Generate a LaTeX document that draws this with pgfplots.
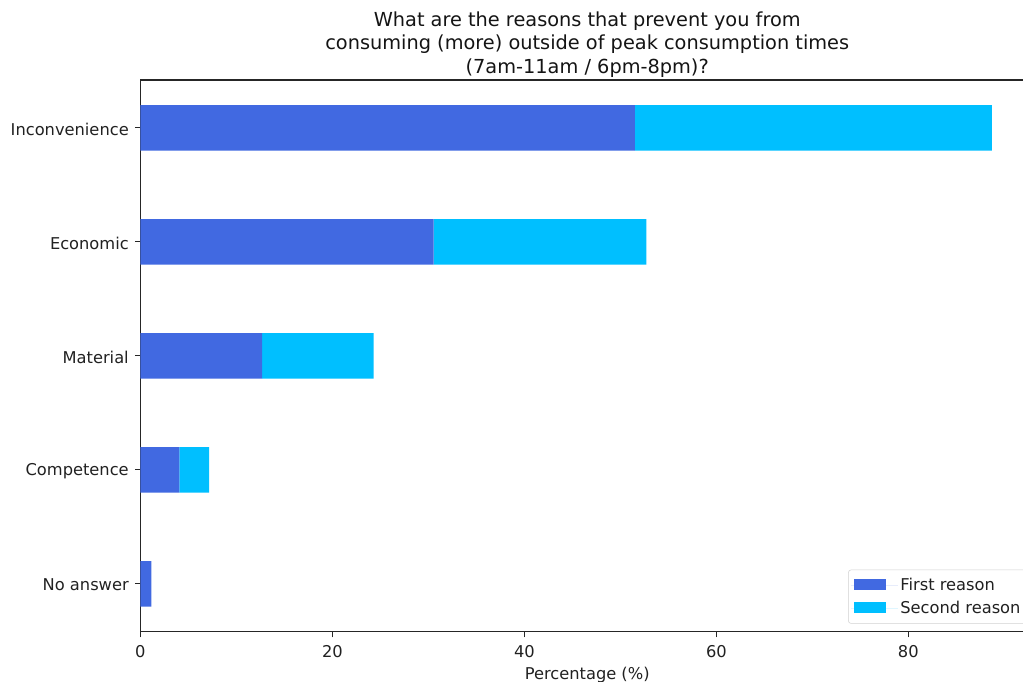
\documentclass[border=0pt]{standalone}
\usepackage{pgfplots}
\pgfplotsset{compat=1.18}
\usepackage{fontspec}
\setmainfont{DejaVu Sans}
\definecolor{firstc}{HTML}{4169E1}
\definecolor{secondc}{HTML}{00BFFF}
\definecolor{spine}{HTML}{262626}
\begin{document}
\begin{tikzpicture}
\begin{axis}[
  name=ax,
  scale only axis,
  width=670.3pt, height=413.8pt,
  xbar stacked,
  bar width=0.4,
  xmin=0, xmax=93.1,
  ymin=-0.42, ymax=4.42,
  ytick={0,1,2,3,4},
  yticklabels={No answer,Competence,Material,Economic,Inconvenience},
  xtick={0,20,40,60,80},
  tick align=outside,
  xtick pos=bottom, ytick pos=left,
  major tick length=4.2pt,
  tick style={spine, line width=0.95pt},
  axis line style={spine, line width=0.95pt},
  /pgf/number format/assume math mode=true,
  ticklabel style={font=\fontsize{12.2}{14.6}\selectfont, text=black!87},
  xticklabel style={yshift=-2.5pt},
  yticklabel style={xshift=-1pt, yshift=-1pt},
  xlabel={Percentage (\%)},
  xlabel style={font=\fontsize{12.2}{14.6}\selectfont, text=black!87, yshift=-0.5pt},
  title={What are the reasons that prevent you from\\consuming (more) outside of peak consumption times\\(7am-11am / 6pm-8pm)?},
  title style={align=center, font=\fontsize{14.5}{17.3}\selectfont, text=black!92,
    inner sep=0pt, anchor=south, yshift=-4pt},
  legend cell align=left,
  legend style={at={(1,0)}, anchor=south east, xshift=-6pt, yshift=6pt,
    draw=black!18, rounded corners=2pt, fill=white,
    font=\fontsize{12.2}{14.6}\selectfont, text=black!87,
    inner xsep=2pt, inner ysep=4pt, row sep=2.6pt},
  legend image code/.code={%
    \path[#1, draw=none, sharp corners] (2.3pt,-3.6pt) rectangle (26.3pt,4.6pt);
    \path (0pt,0pt) -- (35pt,0pt);},
]
% First reason
\addplot[fill=firstc, draw=none] coordinates {
  (1.14,0) (4.05,1) (12.67,2) (30.55,3) (51.5,4)
};
% Second reason
\addplot[fill=secondc, draw=none] coordinates {
  (0,0) (3.10,1) (11.63,2) (22.15,3) (37.2,4)
};
\legend{First reason, Second reason}
\end{axis}
\pgfresetboundingbox
\path[use as bounding box]
  ([xshift=-105.3pt, yshift=-37.7pt]ax.south west)
  rectangle ([xshift=662pt, yshift=60pt]ax.north west);
\end{tikzpicture}
\end{document}
